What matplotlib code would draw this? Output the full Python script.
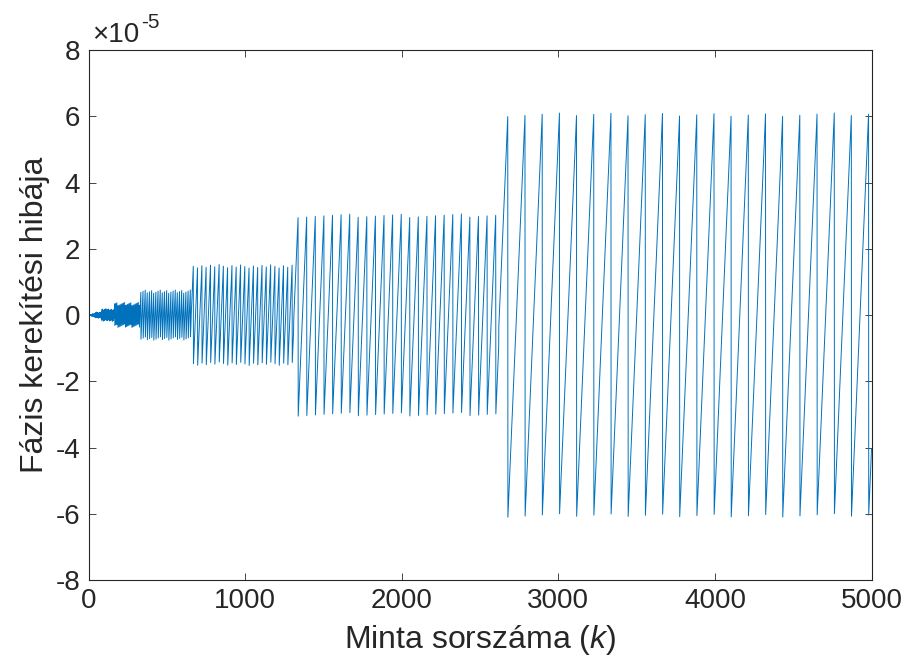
import numpy as np
import matplotlib
matplotlib.use("Agg")
import matplotlib.pyplot as plt


# -----------------------------
# Data
# -----------------------------
# The error is a sawtooth: it rises with a constant slope and jumps back
# at +A to -A. The wrap amplitude doubles at each segment boundary.
# Values are in units of 1e-5.
N_SAMPLES = 5000
SEG_START = [0, 20.5, 41, 82, 164, 327.5, 655, 1310, 2620]
SEG_AMP = [0.024, 0.048, 0.095, 0.19, 0.381, 0.763, 1.526, 3.052, 6.104]
SEG_RESET = [10.5, 20.9, 41.8, 83.7, 167.4, 334.7, 669.5, 1339, 2678]
RAMP_SLOPE = 0.1113  # rise per sample (x1e-5)

X_TICKS = [0, 1000, 2000, 3000, 4000, 5000]
Y_TICKS = [-8, -6, -4, -2, 0, 2, 4, 6, 8]


# -----------------------------
# Build the sampled error curve
# -----------------------------
k = np.arange(N_SAMPLES + 1)
err = np.zeros(len(k), dtype=float)
seg_end = SEG_START[1:] + [N_SAMPLES + 1]
for start, end, amp, reset in zip(SEG_START, seg_end, SEG_AMP, SEG_RESET):
    m = (k >= start) & (k < end)
    err[m] = np.mod(RAMP_SLOPE * (k[m] - reset), 2 * amp) - amp


# -----------------------------
# Plot
# -----------------------------
plt.rcParams["font.family"] = ["Liberation Sans", "DejaVu Sans"]
plt.rcParams["axes.unicode_minus"] = False
plt.rcParams["mathtext.fontset"] = "custom"
plt.rcParams["mathtext.rm"] = "Liberation Sans"
plt.rcParams["mathtext.it"] = "Liberation Sans:italic"

axis_color = "#262626"

fig = plt.figure(figsize=(9.07, 6.68), dpi=100)
ax = fig.add_axes([0.0976, 0.1317, 0.8633, 0.7934])

ax.plot(k, err, color="#0072BD", linewidth=0.7)

ax.set_xlim(0, 5000)
ax.set_ylim(-8, 8)
ax.set_xticks(X_TICKS)
ax.set_yticks(Y_TICKS)
ax.set_xticklabels([str(t) for t in X_TICKS])
ax.set_yticklabels([str(t) for t in Y_TICKS])

ax.tick_params(direction="in", top=True, right=True, length=5, width=0.6,
               colors=axis_color, labelsize=20, pad=6)
for side in ax.spines.values():
    side.set_color(axis_color)
    side.set_linewidth(0.8)

ax.set_xlabel("Minta sorszáma ($\\mathit{k}$)", fontsize=23, color=axis_color, labelpad=6)
ax.set_ylabel("Fázis kerekítési hibája", fontsize=23, color=axis_color, labelpad=4)

# exponent marker in the top-left corner, like MATLAB
fig.text(92 / 907, 1 - 42 / 668, "×10", fontsize=20, color=axis_color,
         ha="left", va="baseline")
fig.text(141 / 907, 1 - 28 / 668, "-5", fontsize=15, color=axis_color,
         ha="left", va="baseline")

fig.savefig("out.png", dpi=100)
